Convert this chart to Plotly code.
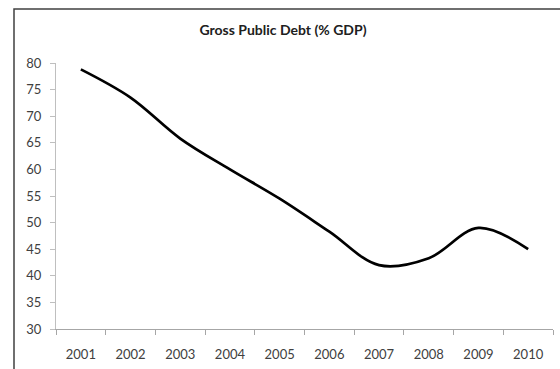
import plotly.graph_objects as go

years = ["2001", "2002", "2003", "2004", "2005", "2006", "2007", "2008", "2009", "2010"]
debt_pct_gdp = [78.8, 73.5, 65.8, 60.0, 54.5, 48.3, 42.0, 43.3, 49.0, 45.0]
y_ticks = [30, 35, 40, 45, 50, 55, 60, 65, 70, 75, 80]

W, H = 560, 369
ml, mr, mt, mb = 56, 7, 63, 40
pw, ph = W - ml - mr, H - mt - mb

fig = go.Figure()
fig.add_trace(go.Scatter(
    x=years, y=debt_pct_gdp, mode="lines",
    line=dict(color="#000000", width=2.7, shape="spline", smoothing=1.0),
    hoverinfo="x+y", showlegend=False,
))

# outer chart frame (left and top edges visible)
fig.add_shape(type="rect", xref="paper", yref="paper",
              x0=(14 - ml) / pw, x1=(W + 20 - ml) / pw,
              y0=-(mb + 20) / ph, y1=1 + (mt - 9) / ph,
              line=dict(color="#404040", width=1.5), fillcolor="rgba(0,0,0,0)",
              layer="below")

axis_font = dict(family="Lato, Open Sans, sans-serif", size=13, color="#404040")
fig.update_layout(
    width=W, height=H,
    margin=dict(l=ml, r=mr, t=mt, b=mb),
    paper_bgcolor="white", plot_bgcolor="white",
    title=dict(text="Gross Public Debt (% GDP)", x=(283 - ml) / pw, xref="paper",
               xanchor="center", y=1 - 30 / H, yanchor="middle",
               font=dict(family="Lato, Open Sans, sans-serif", size=14, color="#202020",
                         weight="bold")),
    xaxis=dict(type="category", range=[-0.5, 9.5], showgrid=False, zeroline=False,
               showline=True, linecolor="#a6a6a6", linewidth=1,
               ticks="outside", tickson="boundaries", ticklen=5, tickcolor="#a6a6a6",
               tickfont=axis_font, ticklabelstandoff=13),
    yaxis=dict(range=[30, 80], tickvals=y_ticks, showgrid=False, zeroline=False,
               showline=True, linecolor="#bfbfbf", linewidth=1,
               ticks="outside", ticklen=5, tickcolor="#bfbfbf",
               tickfont=axis_font, ticklabelstandoff=6),
)

fig.write_html("out.html")
